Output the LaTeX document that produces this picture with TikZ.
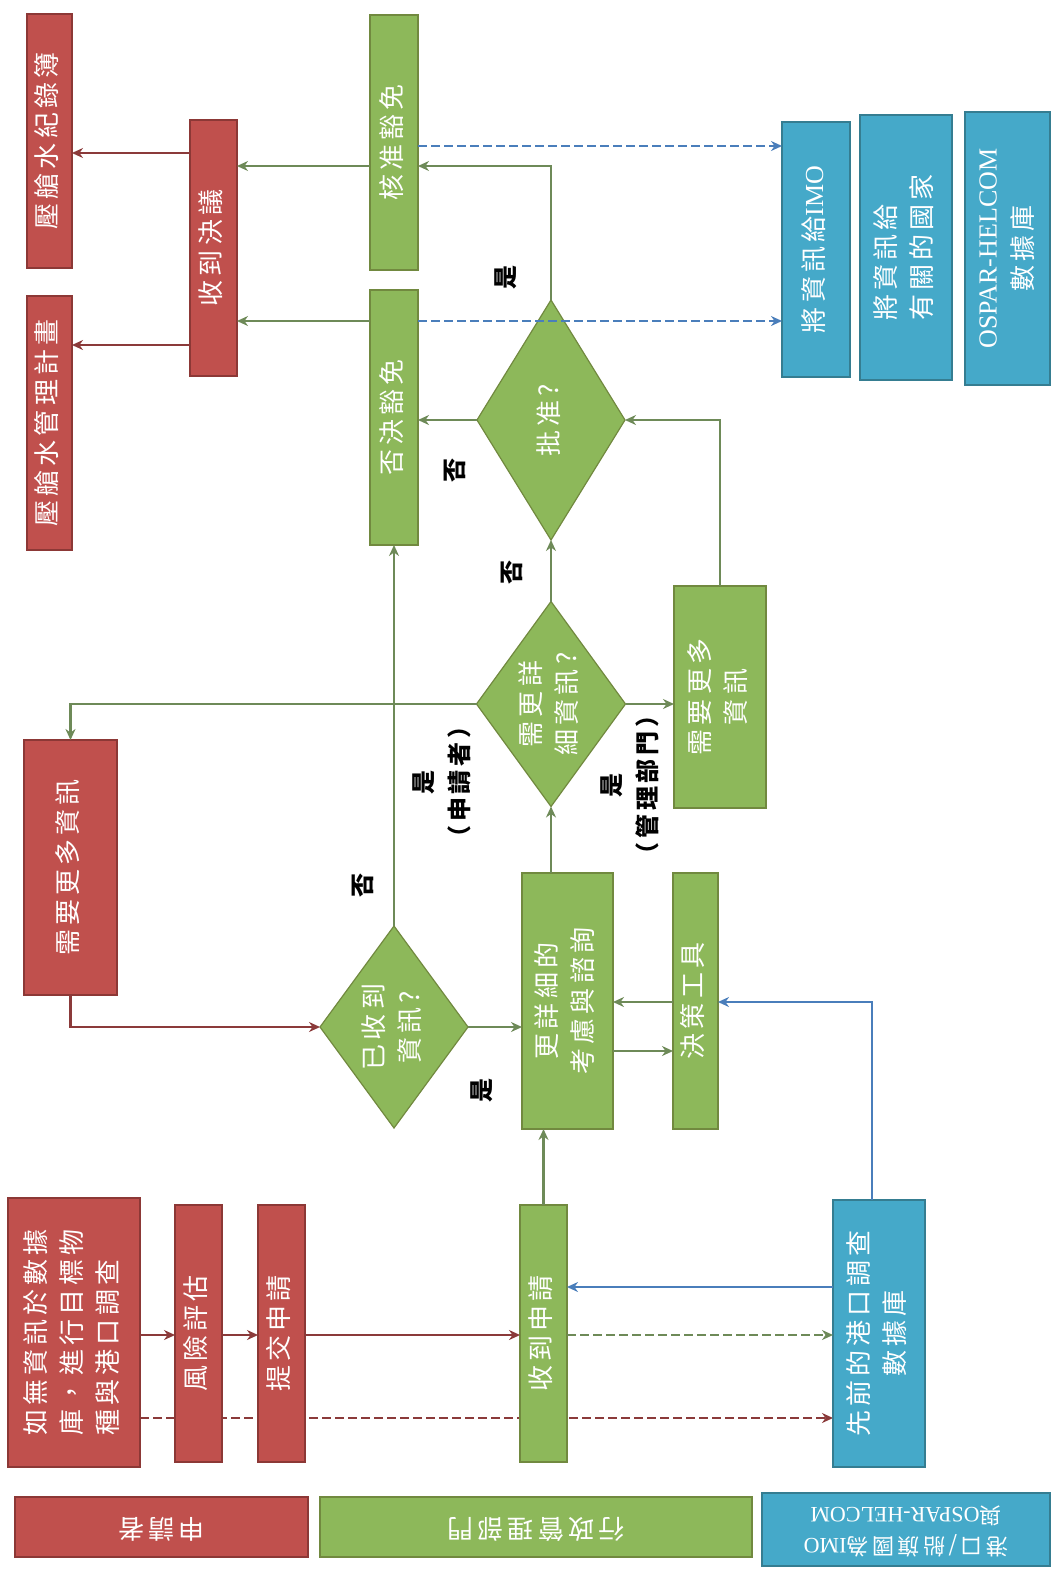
\documentclass[tikz,border=0pt]{standalone}
\usepackage{fontspec}
\usepackage{graphicx}
\setmainfont{Noto Sans CJK TC}
\newfontfamily\cjkf[LetterSpace=16]{Noto Sans CJK TC}
\newfontfamily\cjkn{Noto Sans CJK TC}
\newfontfamily\latf{Liberation Serif}
\usetikzlibrary{shapes.geometric,arrows.meta}
\pgfdeclarelayer{bg}
\pgfsetlayers{bg,main}
\definecolor{rfill}{HTML}{C0504D}
\definecolor{rdraw}{HTML}{8C3836}
\definecolor{gfill}{HTML}{8DB85A}
\definecolor{gdraw}{HTML}{71893F}
\definecolor{bfill}{HTML}{45A9C9}
\definecolor{bdraw}{HTML}{357D91}
\definecolor{rline}{HTML}{8B3A3A}
\definecolor{gline}{HTML}{6E8A58}
\definecolor{bline}{HTML}{4A7EBB}
\newcommand{\rt}[1]{\rotatebox{90}{\begin{tabular}{@{}c@{}}#1\end{tabular}}}
\newcommand{\rtl}[1]{\rotatebox{90}{\begin{tabular}{@{}l@{}}#1\end{tabular}}}
\newcommand{\dt}[1]{\makebox[0pt]{\raisebox{-0.5\height}[0pt][0pt]{\rt{#1}}}}
\newcommand{\ud}[1]{\rotatebox{180}{\begin{tabular}{@{}c@{}}#1\end{tabular}}}
\newcommand{\lat}[1]{{\latf #1}}
\newcommand{\bx}[7]{\node[#1, minimum width={#5-#3}, minimum height={#6-#4}] (#2) at ({(#3+#5)/2},{(#4+#6)/2}) {#7};}
\begin{document}
\begin{tikzpicture}[x=1pt,y=-1pt,
  basebox/.style={draw, line width=1.2pt, inner sep=0pt, outer sep=0pt, text=white, font=\fontsize{26}{36}\selectfont\cjkf},
  redbox/.style={basebox, fill=rfill, draw=rdraw},
  greenbox/.style={basebox, fill=gfill, draw=gdraw},
  bluebox/.style={basebox, fill=bfill, draw=bdraw},
  dia/.style={diamond, draw=gdraw, fill=gfill, line width=1.2pt, inner sep=0pt, outer sep=0pt, text=white, font=\fontsize{26}{36}\selectfont\cjkf},
  conn/.style={line width=2.8pt, -{Stealth[length=11pt,width=10pt]}},
  rcon/.style={conn, draw=rline},
  gcon/.style={conn, draw=gline},
  bcon/.style={conn, draw=bline},
  dsh/.style={dash pattern=on 9pt off 4pt},
  lbl/.style={text=black, font=\fontsize{24}{36}\selectfont\cjkf\bfseries, inner sep=0pt}
]
\path[use as bounding box] (0,0) rectangle (1057,1569);
% legend
\bx{redbox}{LR}{15}{1497}{308}{1557}{\ud{申請者}}
\bx{greenbox}{LG}{320}{1497}{752}{1557}{\ud{行政管理部門}}
\bx{bluebox,font=\fontsize{22}{31}\selectfont\cjkf}{LB}{762}{1493}{1050}{1566}{\ud{港口/船旗國為\lat{IMO}\\與\lat{OSPAR-HELCOM}}}
% red boxes
\bx{redbox}{R1}{27}{14}{72}{268}{\rt{壓艙水紀錄簿}}
\bx{redbox}{R2}{27}{296}{72}{550}{\rt{壓艙水管理計畫}}
\bx{redbox}{R3}{190}{120}{237}{376}{\rt{收到決議}}
\bx{redbox}{R4}{24}{740}{117}{995}{\rt{需要更多資訊}}
\bx{redbox}{R5}{8}{1198}{140}{1467}{\rtl{如無資訊於數據\\庫，進行目標物\\種與港口調查}}
\bx{redbox}{R6}{175}{1205}{222}{1462}{\rt{風險評估}}
\bx{redbox}{R7}{258}{1205}{305}{1462}{\rt{提交申請}}
% green boxes
\bx{greenbox}{G1}{370}{15}{418}{270}{\rt{核准豁免}}
\bx{greenbox}{G2}{370}{290}{418}{545}{\rt{否決豁免}}
\bx{greenbox}{G3}{674}{586}{766}{808}{\rt{需要更多\\資訊}}
\bx{greenbox}{G4}{522}{873}{613}{1129}{\rt{更詳細的\\考慮與諮詢}}
\bx{greenbox}{G5}{673}{873}{718}{1129}{\rt{決策工具}}
\bx{greenbox}{G6}{520}{1205}{567}{1462}{\rt{收到申請}}
% blue boxes
\bx{bluebox}{B1}{782}{122}{850}{377}{\rt{將資訊給\lat{IMO}}}
\bx{bluebox}{B2}{860}{115}{952}{380}{\rtl{將資訊給\\有關的國家}}
\bx{bluebox}{B3}{965}{112}{1050}{385}{\rt{\lat{OSPAR-HELCOM}\\數據庫}}
\bx{bluebox}{B4}{833}{1200}{925}{1467}{\rt{先前的港口調查\\數據庫}}
% diamonds
\node[dia, minimum width=148, minimum height=240] (D1) at (551,420) {\dt{批准?}};
\node[dia, minimum width=149, minimum height=205] (D2) at (551,704) {\dt{需更詳\\細資訊?}};
\node[dia, minimum width=148, minimum height=202] (D3) at (394,1027) {\dt{已收到\\資訊?}};
% labels
\node[lbl] (L1) at (506,277) {\rotatebox{90}{是}};
\node[lbl] (L2) at (455,470) {\rotatebox{90}{否}};
\node[lbl] (L3) at (512,572) {\rotatebox{90}{否}};
\node[lbl] (L4) at (443,782) {\rt{是\\（申請者）}};
\node[lbl] (L5) at (631,785) {\rt{是\\（管理部門）}};
\node[lbl] (L6) at (363,885) {\rotatebox{90}{否}};
\node[lbl] (L7) at (482,1090) {\rotatebox{90}{是}};
% connectors
\draw[rcon] (R3.west |- 0,153) -- (R1.east |- 0,153);
\draw[rcon] (R3.west |- 0,345) -- (R2.east |- 0,345);
\draw[gcon] (G1.west |- 0,166) -- (R3.east |- 0,166);
\draw[gcon] (G2.west |- 0,321) -- (R3.east |- 0,321);
\draw[bcon,dsh] (G1.east |- 0,146) -- (B1.west |- 0,146);
\draw[bcon,dsh] (G2.east |- 0,321) -- (B1.west |- 0,321);
\draw[gcon] (D1.north) |- (G1.east |- 0,166);
\draw[gcon] (D1.west) -- (G2.east |- D1.west);
\draw[gcon] (D2.north) -- (D1.south);
\draw[gcon] (G3.north) |- (D1.east);
\draw[gcon] (D2.east) -- (G3.west |- D2.east);
\draw[gcon] (D2.west) -| (R4.north);
\draw[rcon] (R4.south) |- (D3.west);
\draw[gcon] (D3.north) -- (G2.south);
\draw[gcon] (D3.east) -- (G4.west |- D3.east);
\draw[gcon] (G6.north) -- (G4.south -| G6.north);
\draw[gcon] (D2.south |- G4.north) -- (D2.south);
\draw[gcon] (G5.west |- 0,1002) -- (G4.east |- 0,1002);
\draw[gcon] (G4.east |- 0,1051) -- (G5.west |- 0,1051);
\draw[bcon] (B4.north -| 872,0) |- (G5.east |- 0,1002);
\draw[rcon] (R5.east |- 0,1335) -- (R6.west |- 0,1335);
\draw[rcon] (R6.east |- 0,1335) -- (R7.west |- 0,1335);
\draw[rcon] (R7.east |- 0,1335) -- (G6.west |- 0,1335);
\draw[bcon] (B4.west |- 0,1287) -- (G6.east |- 0,1287);
\draw[gcon,dsh] (G6.east |- 0,1335) -- (B4.west |- 0,1335);
\begin{pgfonlayer}{bg}
\draw[rcon,dsh] (R5.east |- 0,1418) -- (B4.west |- 0,1418);
\end{pgfonlayer}
\end{tikzpicture}
\end{document}
